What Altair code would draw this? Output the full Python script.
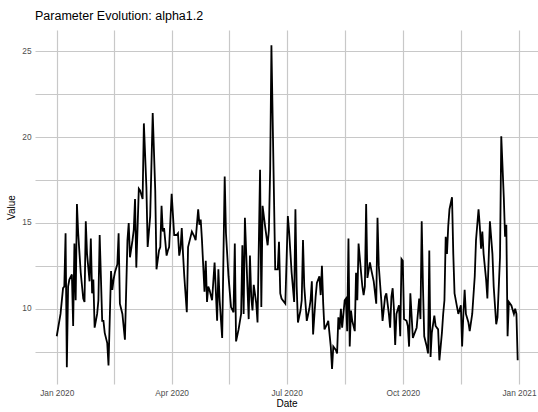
import altair as alt
import pandas as pd

# Day offsets from 2020-01-01 and the parameter values
day_offset = [
    0, 3, 5, 6, 7, 8, 9, 10, 12, 13, 14, 15, 16, 17, 19, 21, 22, 23, 24, 26,
    27, 28, 29, 30, 32, 33, 34, 36, 37, 38, 40, 41, 43, 44, 45, 46, 48, 49, 50, 52,
    54, 56, 57, 58, 60, 61, 62, 63, 65, 66, 68, 69, 71, 72, 74, 76, 78, 79, 81, 82,
    83, 84, 85, 87, 88, 89, 91, 93, 95, 96, 97, 98, 99, 100, 101, 103, 104, 107, 109, 110,
    112, 113, 114, 115, 117, 118, 119, 120, 121, 123, 125, 127, 128, 129, 131, 133, 134, 136, 138, 140,
    141, 142, 144, 146, 147, 148, 149, 151, 152, 153, 154, 155, 156, 158, 159, 161, 162, 163, 165, 167,
    168, 169, 170, 173, 175, 176, 177, 178, 180, 181, 183, 184, 186, 188, 189, 190, 191, 193, 194, 195,
    196, 198, 200, 201, 202, 203, 205, 206, 208, 209, 210, 211, 212, 214, 215, 217, 218, 219, 221, 222,
    223, 224, 225, 226, 228, 229, 230, 231, 232, 233, 234, 236, 237, 238, 239, 241, 242, 243, 244, 245,
    246, 248, 249, 251, 253, 254, 255, 257, 258, 260, 261, 263, 264, 265, 266, 267, 268, 269, 271, 272,
    273, 274, 275, 277, 278, 279, 280, 282, 283, 285, 287, 288, 289, 290, 291, 293, 294, 295, 296, 297,
    299, 300, 302, 303, 305, 306, 307, 308, 309, 310, 311, 313, 314, 315, 317, 318, 320, 321, 322, 323,
    324, 326, 327, 329, 331, 332, 334, 335, 336, 337, 338, 340, 341, 343, 345, 346, 348, 349, 351, 352,
    354, 355, 356, 357, 358, 360, 362, 363, 364, 365,
]
values = [
    8.4, 9.7, 11.2, 11.3, 14.4, 6.6, 11.3, 11.7, 12.0, 9.0, 13.8, 10.5, 16.1, 14.4, 12.1, 10.6, 10.4, 15.1, 13.2, 11.6,
    14.1, 10.9, 11.7, 8.9, 9.7, 10.5, 14.3, 9.3, 9.3, 8.6, 8.0, 6.7, 12.2, 11.1, 11.7, 12.1, 12.6, 14.4, 10.3, 9.7,
    8.2, 14.0, 15.0, 13.0, 14.0, 14.6, 16.4, 12.4, 17.0, 16.9, 16.4, 20.8, 17.1, 13.6, 15.4, 21.4, 16.9, 12.3, 13.4, 13.6,
    16.0, 14.5, 14.7, 13.1, 13.4, 13.6, 16.7, 14.3, 14.3, 14.4, 13.1, 13.5, 14.7, 13.2, 11.9, 9.8, 13.6, 14.5, 14.2, 14.0,
    15.8, 14.9, 15.2, 14.0, 11.0, 12.8, 10.4, 11.3, 11.1, 10.5, 12.7, 9.3, 12.3, 10.5, 8.3, 17.7, 14.4, 11.9, 10.1, 9.8,
    13.8, 8.1, 8.8, 9.7, 13.7, 9.7, 15.3, 11.3, 9.4, 13.1, 10.7, 9.9, 11.4, 10.3, 9.2, 18.1, 10.1, 16.0, 14.8, 13.7,
    14.6, 18.1, 25.35, 12.3, 12.3, 13.9, 10.9, 10.6, 10.4, 10.3, 15.4, 14.5, 12.1, 10.4, 15.8, 11.3, 9.2, 9.9, 10.5, 14.0,
    11.3, 9.3, 10.0, 10.5, 11.6, 8.5, 10.7, 11.5, 11.9, 10.8, 12.5, 10.3, 8.8, 9.1, 9.3, 7.8, 6.5, 7.8, 7.6, 7.4,
    9.5, 8.8, 10.0, 8.9, 10.5, 10.6, 8.7, 14.1, 7.8, 9.9, 9.3, 8.7, 12.1, 10.5, 13.8, 12.1, 11.3, 10.8, 11.3, 16.1,
    11.8, 12.7, 12.3, 11.6, 10.3, 15.3, 12.5, 10.5, 9.3, 10.7, 10.9, 9.7, 8.9, 10.7, 11.2, 10.0, 7.9, 9.7, 10.2, 8.4,
    12.9, 12.8, 9.4, 9.3, 9.0, 7.8, 10.9, 8.3, 8.5, 8.9, 10.6, 9.4, 15.1, 11.3, 8.4, 7.8, 7.4, 13.4, 7.2, 8.6,
    9.6, 9.0, 8.8, 7.0, 8.6, 9.7, 10.5, 14.2, 13.2, 14.8, 15.8, 16.5, 13.2, 10.9, 10.1, 9.7, 10.2, 7.8, 9.7, 11.1,
    9.7, 9.2, 8.7, 9.7, 11.9, 14.0, 15.8, 14.8, 13.5, 14.5, 13.2, 11.7, 10.6, 15.1, 13.2, 11.3, 9.1, 9.5, 13.0, 20.05,
    16.5, 14.2, 14.9, 8.4, 10.4, 10.2, 9.7, 10.0, 9.7, 7.0,
]

y_ticks = [7.5, 10, 12.5, 15, 17.5, 20, 22.5, 25]

df = pd.DataFrame({
    "date": pd.Timestamp("2020-01-01") + pd.to_timedelta(day_offset, unit="D"),
    "value": values,
})

x_ticks = [
    alt.DateTime(year=2020, month=1, date=1),
    alt.DateTime(year=2020, month=2, date=15, hours=12),
    alt.DateTime(year=2020, month=4, date=1),
    alt.DateTime(year=2020, month=5, date=16, hours=12),
    alt.DateTime(year=2020, month=7, date=1),
    alt.DateTime(year=2020, month=8, date=16),
    alt.DateTime(year=2020, month=10, date=1),
    alt.DateTime(year=2020, month=11, date=16),
    alt.DateTime(year=2021, month=1, date=1),
]

FONT = "Liberation Sans"

chart = alt.Chart(df).mark_line(color="black", strokeWidth=1.8).encode(
    x=alt.X(
        "date:T",
        title="Date",
        scale=alt.Scale(
            domain=[alt.DateTime(year=2019, month=12, date=14, hours=19),
                    alt.DateTime(year=2021, month=1, date=16, hours=2)],
            nice=False,
        ),
        axis=alt.Axis(
            values=x_ticks,
            format="%b %Y",
            labelExpr="(month(datum.value) % 3 == 0 && date(datum.value) == 1) ? datum.label : ''",
            labelPadding=4,
            titlePadding=2,
        ),
    ),
    y=alt.Y(
        "value:Q",
        title="Value",
        scale=alt.Scale(domain=[5.62, 26.24], nice=False, zero=False),
        axis=alt.Axis(
            values=y_ticks,
            labelExpr="datum.value % 5 == 0 ? datum.label : ''",
            labelPadding=4,
            titlePadding=5,
        ),
    ),
).properties(
    width=503,
    height=354,
    padding={"left": 35, "top": 30, "right": 0, "bottom": 28},
    autosize=alt.AutoSizeParams(type="none"),
    background="white",
    title=alt.Title(
        "Parameter Evolution: alpha1.2",
        anchor="start",
        frame="group",
        fontSize=12.5,
        font=FONT,
        fontWeight="normal",
        color="black",
        offset=8,
    ),
).configure_view(
    stroke=None,
).configure_axis(
    domain=False,
    ticks=False,
    tickSize=0,
    grid=True,
    gridColor="#c8c8c8",
    gridWidth=1.2,
    labelFont=FONT,
    labelFontSize=8.3,
    labelColor="#4d4d4d",
    titleFont=FONT,
    titleFontSize=10,
    titleFontWeight="normal",
    titleColor="black",
)

chart.save("out.html", embed_options={"renderer": "svg", "actions": False})
